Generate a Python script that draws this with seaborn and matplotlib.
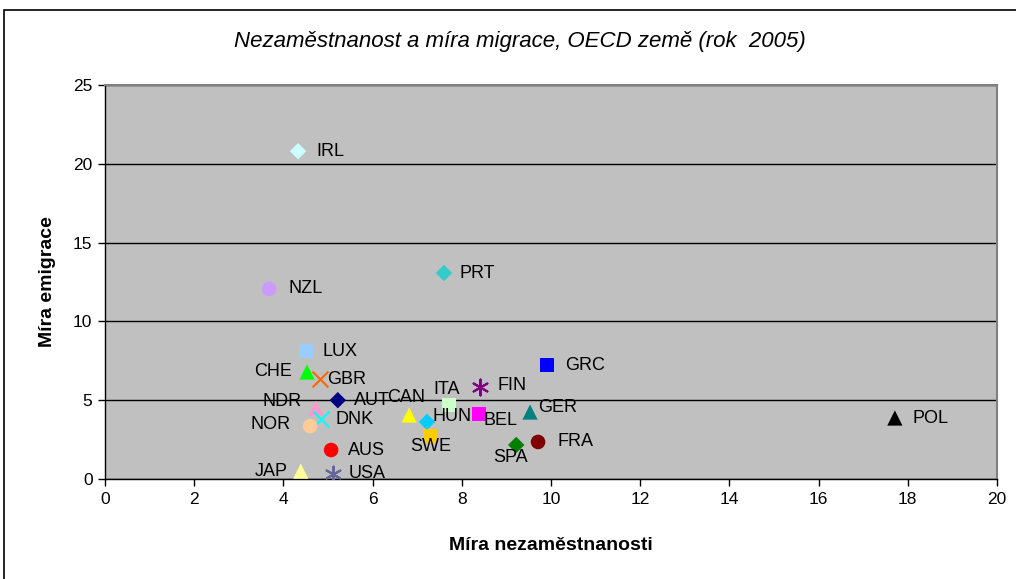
import matplotlib
matplotlib.use("Agg")
import matplotlib.pyplot as plt
import seaborn as sns
import pandas as pd
from matplotlib.patches import Rectangle

# ---- data ----
countries = ["IRL", "NZL", "PRT", "LUX", "CHE", "GBR", "AUT", "NDR", "DNK", "NOR",
             "AUS", "JAP", "USA", "CAN", "HUN", "SWE", "ITA", "FIN", "BEL", "GRC",
             "GER", "SPA", "FRA", "POL"]
unemployment = [4.33, 3.68, 7.6, 4.5, 4.53, 4.82, 5.22, 4.73, 4.84, 4.6,
                5.07, 4.39, 5.11, 6.82, 7.22, 7.29, 7.71, 8.41, 8.39, 9.91,
                9.53, 9.22, 9.71, 17.71]
emigration = [20.8, 12.06, 13.07, 8.12, 6.79, 6.35, 5.0, 4.5, 3.8, 3.36,
              1.84, 0.5, 0.3, 4.06, 3.62, 2.73, 4.7, 5.84, 4.12, 7.23,
              4.25, 2.16, 2.35, 3.87]
x_ticks = [0, 2, 4, 6, 8, 10, 12, 14, 16, 18, 20]
y_ticks = [0, 5, 10, 15, 20, 25]

# ---- styles ----
colors = {"IRL": "#CCFFFF", "NZL": "#CC99FF", "PRT": "#33CCCC", "LUX": "#99CCFF",
          "CHE": "#00FF00", "GBR": "#FF6600", "AUT": "#000080", "NDR": "#FF99CC",
          "DNK": "#00FFFF", "NOR": "#FFCC99", "AUS": "#FF0000", "JAP": "#FFFF99",
          "USA": "#666699", "CAN": "#FFFF00", "HUN": "#00CCFF", "SWE": "#FFCC00",
          "ITA": "#CCFFCC", "FIN": "#800080", "BEL": "#FF00FF", "GRC": "#0000FF",
          "GER": "#008080", "SPA": "#008000", "FRA": "#800000", "POL": "#000000"}
markers = {"IRL": "D", "NZL": "o", "PRT": "D", "LUX": "s", "CHE": "^", "GBR": "x",
           "AUT": "D", "NDR": "^", "DNK": "x", "NOR": "o", "AUS": "o", "JAP": "^",
           "USA": (6, 2, 0), "CAN": "^", "HUN": "D", "SWE": "s", "ITA": "s",
           "FIN": (6, 2, 0), "BEL": "s", "GRC": "s", "GER": "^", "SPA": "D",
           "FRA": "o", "POL": "^"}
marker_size = {"D": 70, "o": 110, "s": 100, "^": 120, "x": 130}
# label offsets in pixels (dx, dy) and horizontal alignment
label_pos = {"IRL": (18, 0, "left"), "NZL": (19, 0, "left"), "PRT": (16, 0, "left"),
             "LUX": (17, 0, "left"), "CHE": (-15, 0, "right"), "GBR": (7, -1, "left"),
             "AUT": (16, 0, "left"), "NDR": (-14, 7, "right"), "DNK": (15, 0, "left"),
             "NOR": (-20, 2, "right"), "AUS": (17, 0, "left"), "JAP": (-13, 0, "right"),
             "USA": (16, 1, "left"), "CAN": (-3, 18, "center"), "HUN": (5, 5, "left"),
             "SWE": (1, -11, "center"), "ITA": (-2, 15, "center"), "FIN": (17, 1, "left"),
             "BEL": (4, -6, "left"), "GRC": (18, 0, "left"), "GER": (8, 5, "left"),
             "SPA": (-6, -13, "center"), "FRA": (19, 0, "left"), "POL": (18, 0, "left")}

df = pd.DataFrame({"country": countries, "x": unemployment, "y": emigration})

sns.set_style("white")
plt.rcParams["font.family"] = ["Liberation Sans", "DejaVu Sans"]
plt.rcParams["text.color"] = "black"
plt.rcParams["axes.labelcolor"] = "black"
plt.rcParams["xtick.color"] = "black"
plt.rcParams["ytick.color"] = "black"

fig = plt.figure(figsize=(10.16, 5.79), dpi=100)
ax = fig.add_axes([105 / 1016, 1 - 479 / 579, (997 - 105) / 1016, (479 - 85) / 579])
ax.set_facecolor("#C0C0C0")

for _, row in df.iterrows():
    c = row["country"]
    m = markers[c]
    sub = df[df["country"] == c]
    if isinstance(m, tuple) or m == "x":
        sns.scatterplot(data=sub, x="x", y="y", ax=ax, marker=m, color=colors[c],
                        s=marker_size["x"], linewidth=1.5, zorder=3, legend=False)
    else:
        sns.scatterplot(data=sub, x="x", y="y", ax=ax, marker=m, color=colors[c],
                        s=marker_size[m], edgecolor="none", linewidth=0, zorder=3,
                        legend=False)
    dx, dy, ha = label_pos[c]
    ax.annotate(c, (row["x"], row["y"]), xytext=(dx, dy), textcoords="offset pixels",
                ha=ha, va="center", fontsize=13, color="black", zorder=4)

ax.set_xlim(0, 20)
ax.set_ylim(0, 25)
ax.set_xticks(x_ticks)
ax.set_yticks(y_ticks)
ax.set_xticklabels([str(t) for t in x_ticks])
ax.set_yticklabels([str(t) for t in y_ticks])
ax.yaxis.grid(True, color="black", linewidth=1)
ax.set_axisbelow(True)
ax.tick_params(axis="both", direction="out", length=5, width=1, color="black",
               labelcolor="black", labelsize=12.5, pad=4, bottom=True, left=True)
for side in ["left", "bottom"]:
    ax.spines[side].set_color("black")
    ax.spines[side].set_linewidth(1)
for side in ["top", "right"]:
    ax.spines[side].set_color("#808080")
    ax.spines[side].set_linewidth(1.5)

ax.set_xlabel("Míra nezaměstnanosti", fontsize=14, fontweight="bold", labelpad=22,
              color="black")
ax.set_ylabel("Míra emigrace", fontsize=14, fontweight="bold", labelpad=12,
              color="black")

fig.text(520 / 1016, 1 - 42 / 579, "Nezaměstnanost a míra migrace, OECD země (rok  2005)",
         ha="center", va="center", fontsize=16, style="italic", color="black")

fig.patches.append(Rectangle((4 / 1016, -0.01), 1.02, 1 - 10 / 579 + 0.01,
                             transform=fig.transFigure, fill=False,
                             edgecolor="black", linewidth=1.2))

fig.savefig("out.png", dpi=100)
